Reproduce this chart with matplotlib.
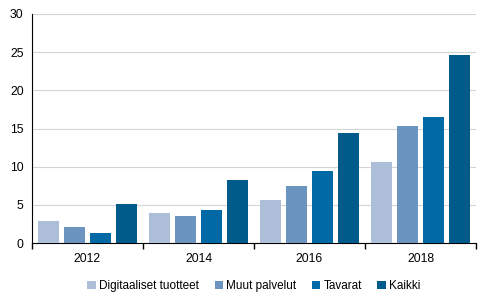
import matplotlib.pyplot as plt
import numpy as np

plt.rcParams["font.family"] = ["Liberation Sans", "DejaVu Sans"]

years = ["2012", "2014", "2016", "2018"]
series = ["Digitaaliset tuotteet", "Muut palvelut", "Tavarat", "Kaikki"]
digitaaliset = [2.9, 3.9, 5.6, 10.6]
muut = [2.1, 3.5, 7.5, 15.3]
tavarat = [1.3, 4.3, 9.4, 16.5]
kaikki = [5.1, 8.3, 14.4, 24.6]
colors = ["#adbfd8", "#6b94c0", "#0069a6", "#005a8a"]

values = [digitaaliset, muut, tavarat, kaikki]

fig = plt.figure(figsize=(4.91, 3.02), dpi=100)
ax = fig.add_axes([32 / 491, 59 / 302, 444 / 491, 229 / 302])

x = np.arange(len(years))
pitch = 0.234
width = 0.189
for k, (name, vals, col) in enumerate(zip(series, values, colors)):
    ax.bar(x + (k - 1.5) * pitch, vals, width, color=col, label=name, zorder=3)

ax.set_xlim(-0.5, len(years) - 0.5)
ax.set_ylim(0, 30)
ax.set_yticks(range(0, 31, 5))
ax.yaxis.grid(True, color="#d4d4d4", linewidth=0.8, zorder=0)
ax.tick_params(axis="y", length=0, labelsize=8.8, pad=6)

ax.set_xticks(x, years)
ax.set_xticks(np.arange(-0.5, len(years)), minor=True)
ax.tick_params(axis="x", which="major", length=0, labelsize=8.8, pad=7)
ax.tick_params(axis="x", which="minor", length=4, width=1, color="black")

for side in ["top", "right"]:
    ax.spines[side].set_visible(False)
ax.spines["left"].set_color("black")
ax.spines["bottom"].set_color("black")

ax.legend(loc="upper center", bbox_to_anchor=(0.5, -0.115), ncol=4,
          frameon=False, fontsize=8.5, handlelength=0.7, handleheight=0.7,
          handletextpad=0.3, columnspacing=1.3)

fig.savefig("out.png", dpi=100)
